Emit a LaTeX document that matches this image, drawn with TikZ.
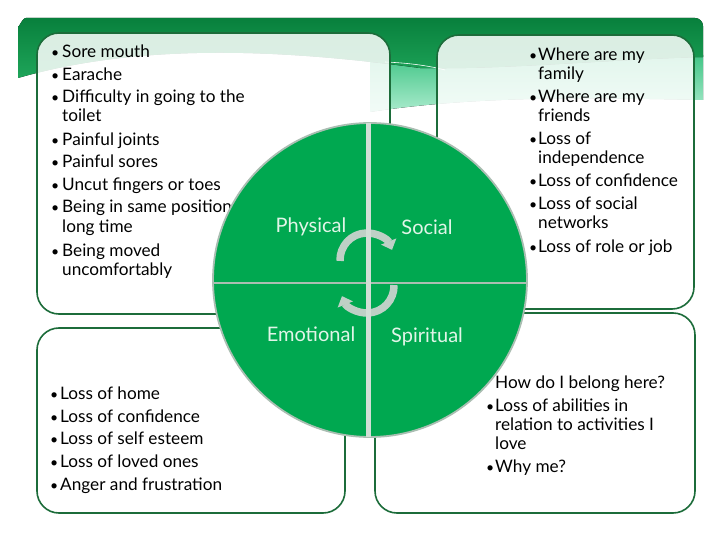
\documentclass[tikz,border=0pt]{standalone}
\usepackage{fontspec}
\setmainfont{Lato}
\usetikzlibrary{arrows.meta}
\definecolor{wheel}{RGB}{0,168,80}
\definecolor{wheeledge}{RGB}{170,190,178}
\definecolor{gapcol}{RGB}{210,222,214}
\definecolor{boxline}{RGB}{28,108,58}
\definecolor{bandtop}{RGB}{8,128,60}
\definecolor{bandbot}{RGB}{30,165,90}
\definecolor{ribbontop}{RGB}{60,195,130}
\definecolor{ribbonbot}{RGB}{170,235,205}
\definecolor{arrowcol}{RGB}{190,208,198}
\definecolor{labelcol}{RGB}{225,245,232}
\tikzset{
  panel/.style={draw=boxline, line width=1.6pt, rounded corners=22pt},
  txt/.style={anchor=base west, inner sep=0pt, font=\fontsize{17.2}{20}\selectfont},
  bul/.style={anchor=base west, inner sep=0pt, font=\fontsize{14}{20}\selectfont},
  qlabel/.style={anchor=base, inner sep=0pt, text=labelcol, font=\fontsize{20}{24}\selectfont},
  cyc/.style={draw=arrowcol, line width=7.5pt, -{Triangle[width=16pt,length=9pt]}}
}
\begin{document}
\begin{tikzpicture}[x=1pt,y=-1pt]
\useasboundingbox (0,0) rectangle (720,540);
\fill[white] (0,0) rectangle (720,540);
% background band
\fill[top color=ribbontop, bottom color=ribbonbot] (370,55) .. controls (500,60) and (600,52) .. (703,55) -- (703,100) .. controls (600,98) and (480,95) .. (370,112) -- cycle;
\fill[top color=bandtop, bottom color=bandbot] (18,78) -- (18,26) to[out=270,in=180] (26,18) -- (695,18) to[out=0,in=90] (703,26) -- (703,57) .. controls (600,60) and (500,70) .. (420,68) .. controls (300,52) and (150,40) .. (18,78) -- cycle;
\draw[white, line width=0.6pt] (385,62) .. controls (410,63) and (430,66) .. (445,70);
% panels
\draw[panel, fill=white, fill opacity=0.85] (37,33) rectangle (390,314);
\draw[panel, fill=white, fill opacity=0.85] (437,35) rectangle (694,309);
\draw[panel, fill=white] (37,328) rectangle (345,513);
\draw[panel, fill=white] (375,313) rectangle (695,513);
% top-left text
\foreach \y/\t [count=\i] in {58/Sore mouth, 81/Earache, 103/Difficulty in going to the, 122/toilet, 146/Painful joints, 168/Painful sores, 191/Uncut fingers or toes, 213/Being in same position, 233/long time, 256/Being moved, 275/uncomfortably}
  \node[txt] (tl\i) at (62,\y) {\t};
\foreach \y [count=\i] in {58,81,103,146,168,191,213,256}
  \node[bul] (tlb\i) at (51,\y) {•};
% top-right text
\foreach \y/\t [count=\i] in {61/Where are my, 80/family, 103/Where are my, 122/friends, 145/Loss of, 164/independence, 187/Loss of confidence, 210/Loss of social, 229/networks, 252/Loss of role or job}
  \node[txt] (tr\i) at (538,\y) {\t};
\foreach \y [count=\i] in {61,103,145,187,210,252}
  \node[bul] (trb\i) at (529,\y) {•};
% bottom-left text
\foreach \y/\t [count=\i] in {399/Loss of home, 422/Loss of confidence, 444/Loss of self esteem, 467/Loss of loved ones, 490/Anger and frustration}
  \node[txt] (bl\i) at (60,\y) {\t};
\foreach \y [count=\i] in {399,422,444,467,490}
  \node[bul] (blb\i) at (50,\y) {•};
% bottom-right text
\foreach \y/\t [count=\i] in {388/How do I belong here?, 411/Loss of abilities in, 430/relation to activities I, 449/love, 472/Why me?}
  \node[txt] (br\i) at (495,\y) {\t};
\foreach \y [count=\i] in {411,472}
  \node[bul] (brb\i) at (486,\y) {•};
% wheel
\coordinate (c) at (370,280);
\fill[wheel] (c) circle[radius=157];
\draw[wheeledge, line width=1.8pt] (c) circle[radius=157];
\draw[cyc] (367,260) ++(178:27) arc[start angle=178, end angle=338, radius=27];
\draw[cyc] (367,286) ++(-2:27) arc[start angle=-2, end angle=158, radius=27];
\draw[wheeledge, line width=2pt] (213,283) -- (527,283);
\draw[gapcol, line width=5pt] (368,123) -- (368,437);
\node[qlabel] (phys) at (311,233) {Physical};
\node[qlabel] (soc) at (427,234) {Social};
\node[qlabel] (emo) at (311,341) {Emotional};
\node[qlabel] (spir) at (427,342) {Spiritual};
\end{tikzpicture}
\end{document}
